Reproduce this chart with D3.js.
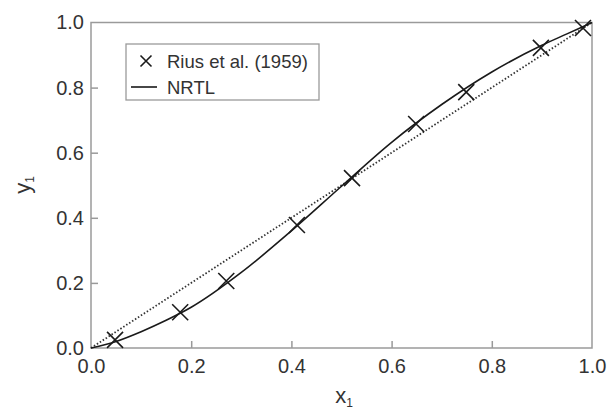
<!DOCTYPE html>
<html>
<head>
<meta charset="utf-8">
<script src="https://cdn.jsdelivr.net/npm/d3@7"></script>
<style>
  body { margin: 0; background: #fff; }
  svg { font-family: "Liberation Sans", Arial, sans-serif; }
</style>
</head>
<body>
<svg id="chart" width="608" height="412"></svg>
<script>
// experimental points, Rius et al. (1959)
var expX = [0.048, 0.178, 0.27, 0.411, 0.521, 0.649, 0.749, 0.898, 0.982];
var expY = [0.025, 0.11, 0.206, 0.378, 0.522, 0.688, 0.786, 0.922, 0.983];

// NRTL model curve
var nrtlX = [0, 0.05, 0.1, 0.15, 0.2, 0.3, 0.4, 0.5, 0.6, 0.7, 0.8, 0.9, 0.95, 1.0];
var nrtlY = [0, 0.02, 0.05, 0.085, 0.125, 0.232, 0.36, 0.497, 0.632, 0.748, 0.848, 0.93, 0.965, 1.0];

var ticks = [0, 0.2, 0.4, 0.6, 0.8, 1.0];

var svg = d3.select("#chart");

var x = d3.scaleLinear().domain([0, 1]).range([91, 592]);
var y = d3.scaleLinear().domain([0, 1]).range([348, 22.5]);

var axisCol = "#9a9a9a";
var textCol = "#333";

// frame
svg.append("rect")
    .attr("x", x(0))
    .attr("y", y(1))
    .attr("width", x(1) - x(0))
    .attr("height", y(0) - y(1))
    .attr("fill", "none")
    .attr("stroke", axisCol)
    .attr("stroke-width", 1.5);

// axes, ticks pointing inward
var xAxis = svg.append("g")
    .attr("transform", "translate(0," + y(0) + ")")
    .call(d3.axisBottom(x).tickValues(ticks).tickSize(-7).tickFormat(d3.format(".1f")));
xAxis.select(".domain").remove();

var yAxis = svg.append("g")
    .attr("transform", "translate(" + x(0) + ",0)")
    .call(d3.axisLeft(y).tickValues(ticks).tickSize(-7).tickPadding(8).tickFormat(d3.format(".1f")));
yAxis.select(".domain").remove();

svg.selectAll(".tick line").attr("stroke", axisCol).attr("stroke-width", 1.5);
svg.selectAll(".tick text")
    .attr("fill", textCol)
    .attr("font-size", 20)
    .attr("font-family", "Liberation Sans, Arial, sans-serif");
xAxis.selectAll(".tick text").attr("dy", "0.71em").attr("y", 11);
yAxis.selectAll(".tick text").attr("x", -7);
// no tick marks on the frame edges
svg.selectAll(".tick").filter(function (d) { return d === 0 || d === 1; }).select("line").remove();

// axis titles
var xt = svg.append("text")
    .attr("x", 344)
    .attr("y", 403)
    .attr("text-anchor", "middle")
    .attr("font-size", 22)
    .attr("fill", textCol);
xt.append("tspan").text("x");
xt.append("tspan").attr("font-size", 12).attr("dy", 4).text("1");

var yt = svg.append("text")
    .attr("transform", "translate(30,185) rotate(-90)")
    .attr("text-anchor", "middle")
    .attr("font-size", 22)
    .attr("fill", textCol);
yt.append("tspan").text("y");
yt.append("tspan").attr("font-size", 12).attr("dy", 4).text("1");

// diagonal
svg.append("line")
    .attr("x1", x(0)).attr("y1", y(0))
    .attr("x2", x(1)).attr("y2", y(1))
    .attr("stroke", "#333")
    .attr("stroke-width", 1.8)
    .attr("stroke-dasharray", "1.5,2");

// NRTL curve
var line = d3.line()
    .x(function (d) { return x(d[0]); })
    .y(function (d) { return y(d[1]); })
    .curve(d3.curveMonotoneX);

svg.append("path")
    .datum(d3.zip(nrtlX, nrtlY))
    .attr("d", line)
    .attr("fill", "none")
    .attr("stroke", "#1a1a1a")
    .attr("stroke-width", 1.6);

// cross markers
var s = 8;
function cross(cx, cy, r) {
    return "M" + (cx - r) + "," + (cy - r) + "L" + (cx + r) + "," + (cy + r) +
        "M" + (cx - r) + "," + (cy + r) + "L" + (cx + r) + "," + (cy - r);
}
svg.append("g").selectAll("path")
    .data(d3.zip(expX, expY))
    .join("path")
    .attr("d", function (d) { return cross(x(d[0]), y(d[1]), s); })
    .attr("stroke", "#1a1a1a")
    .attr("stroke-width", 1.6)
    .attr("fill", "none");

// legend
var lg = svg.append("g");
lg.append("rect")
    .attr("x", 126).attr("y", 44)
    .attr("width", 193).attr("height", 56)
    .attr("fill", "#fff")
    .attr("stroke", axisCol)
    .attr("stroke-width", 1.3);
lg.append("path")
    .attr("d", cross(146, 61, 5.5))
    .attr("stroke", "#1a1a1a")
    .attr("stroke-width", 1.6);
lg.append("line")
    .attr("x1", 131).attr("x2", 157)
    .attr("y1", 87).attr("y2", 87)
    .attr("stroke", "#1a1a1a")
    .attr("stroke-width", 1.6);
lg.append("text")
    .attr("x", 167).attr("y", 68)
    .attr("font-size", 18.5)
    .attr("fill", textCol)
    .text("Rius et al. (1959)");
lg.append("text")
    .attr("x", 167).attr("y", 94)
    .attr("font-size", 18.5)
    .attr("fill", textCol)
    .text("NRTL");
</script>
</body>
</html>
